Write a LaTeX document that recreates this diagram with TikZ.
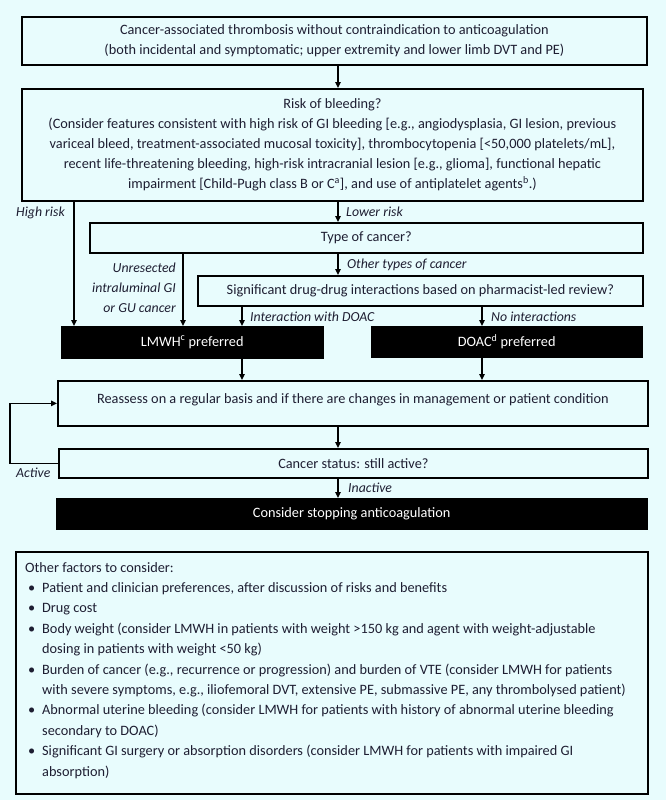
\documentclass[tikz,border=0pt]{standalone}
\usepackage{fontspec}
\setmainfont{Carlito}
\usetikzlibrary{arrows.meta,calc}
\definecolor{bg}{RGB}{232,252,253}
\definecolor{ink}{RGB}{30,30,50}
\newcommand{\fbul}{\hspace*{3pt}\makebox[14pt][l]{\textbullet}}
\newcommand{\findent}{\hspace*{17pt}}
\begin{document}
\begin{tikzpicture}[x=1pt,y=-1pt,
 box/.style={draw=black, line width=1.8pt, fill=bg, anchor=north west, inner sep=0pt, align=center, text=ink, font=\fontsize{14.3}{20}\selectfont},
 blackbox/.style={draw=black, fill=black, anchor=north west, inner sep=0pt, align=center, text=white, font=\fontsize{14.3}{20}\selectfont},
 arr/.style={line width=1.3pt, -{Triangle[length=6pt,width=5.5pt]}},
 lab/.style={font=\fontsize{13.8}{20}\selectfont\itshape, text=ink, inner sep=0pt, align=right},
]
\fill[bg] (0,0) rectangle (666,800);
\useasboundingbox (0,0) rectangle (666,800);

\node[box, minimum width=625pt, minimum height=48pt] (b1) at (21,16)
 {Cancer-associated thrombosis without contraindication to anticoagulation\\
  (both incidental and symptomatic; upper extremity and lower limb DVT and PE)};
\node[box, minimum width=621pt, minimum height=112pt] (risk) at (21,88)
 {Risk of bleeding?\\
  (Consider features consistent with high risk of GI bleeding [e.g., angiodysplasia, GI lesion, previous\\
  variceal bleed, treatment-associated mucosal toxicity], thrombocytopenia [<50,000 platelets/mL],\\
  recent life-threatening bleeding, high-risk intracranial lesion [e.g., glioma], functional hepatic\\
  impairment [Child-Pugh class B or C\textsuperscript{a}], and use of antiplatelet agents\textsuperscript{b}.)};
\node[box, minimum width=553pt, minimum height=30pt] (type) at (89,222) {Type of cancer?};
\node[box, minimum width=445pt, minimum height=30pt] (ddi) at (197,275)
 {Significant drug-drug interactions based on pharmacist-led review?};
\node[blackbox, minimum width=262pt, minimum height=32pt] (lmwh) at (61,326) {LMWH\textsuperscript{c} preferred};
\node[blackbox, minimum width=271pt, minimum height=31pt] (doac) at (371,326) {DOAC\textsuperscript{d} preferred};
\node[box, minimum width=590pt, minimum height=45pt, text depth=10pt] (rea) at (57,380)
 {Reassess on a regular basis and if there are changes in management or patient condition};
\node[box, minimum width=589pt, minimum height=29pt] (status) at (58,448) {Cancer status: still active?};
\node[blackbox, minimum width=591pt, minimum height=31pt] (stop) at (56,498) {Consider stopping anticoagulation};

\node[draw=black, line width=1.6pt, fill=bg, anchor=north west, inner sep=0pt,
      minimum width=632pt, minimum height=242pt] (factors) at (15,551) {};
\node[anchor=north west, inner sep=0pt, align=left, text=ink,
      font=\fontsize{14.3}{20.4}\selectfont] (ftext) at (25,562)
 {Other factors to consider:\\
  \fbul Patient and clinician preferences, after discussion of risks and benefits\\
  \fbul Drug cost\\
  \fbul Body weight (consider LMWH in patients with weight >150 kg and agent with weight-adjustable\\
  \findent dosing in patients with weight <50 kg)\\
  \fbul Burden of cancer (e.g., recurrence or progression) and burden of VTE (consider LMWH for patients\\
  \findent with severe symptoms, e.g., iliofemoral DVT, extensive PE, submassive PE, any thrombolysed patient)\\
  \fbul Abnormal uterine bleeding (consider LMWH for patients with history of abnormal uterine bleeding\\
  \findent secondary to DOAC)\\
  \fbul Significant GI surgery or absorption disorders (consider LMWH for patients with impaired GI\\
  \findent absorption)};

% x positions of connectors
\coordinate (xmain) at (338,0);
\coordinate (xhigh) at (74,0);
\coordinate (xgi) at (183,0);
\coordinate (xlm) at (242,0);
\coordinate (xdo) at (482,0);
\coordinate (xloop) at (10,0);

\draw[arr] (b1.south -| xmain) -- (risk.north -| xmain);
\draw[arr] (risk.south -| xhigh) -- (lmwh.north -| xhigh);
\draw[arr] (risk.south -| xmain) -- (type.north -| xmain);
\draw[arr] (type.south -| xgi) -- (lmwh.north -| xgi);
\draw[arr] (type.south -| xmain) -- (ddi.north -| xmain);
\draw[arr] (ddi.south -| xlm) -- (lmwh.north -| xlm);
\draw[arr] (ddi.south -| xdo) -- (doac.north -| xdo);
\draw[arr] (lmwh.south -| xlm) -- (rea.north -| xlm);
\draw[arr] (doac.south -| xdo) -- (rea.north -| xdo);
\draw[arr] (rea.south -| xmain) -- (status.north -| xmain);
\draw[arr] (status.south -| xmain) -- (stop.north -| xmain);
\draw[arr] (status.west) -- (status.west -| xloop) -- (rea.west -| xloop) -- (rea.west);

\node[lab, anchor=east] (lhigh) at (65,213) {High risk};
\node[lab, anchor=west] (llow) at (346,212) {Lower risk};
\node[lab, anchor=east] (lgi) at (176,288) {Unresected\\intraluminal GI\\or GU cancer};
\node[lab, anchor=west] (lother) at (347,265) {Other types of cancer};
\node[lab, anchor=west] (linter) at (250,317) {Interaction with DOAC};
\node[lab, anchor=west] (lnoint) at (491,317) {No interactions};
\node[lab, anchor=west] (lact) at (16,473) {Active};
\node[lab, anchor=west] (linact) at (348,488) {Inactive};
\end{tikzpicture}
\end{document}
